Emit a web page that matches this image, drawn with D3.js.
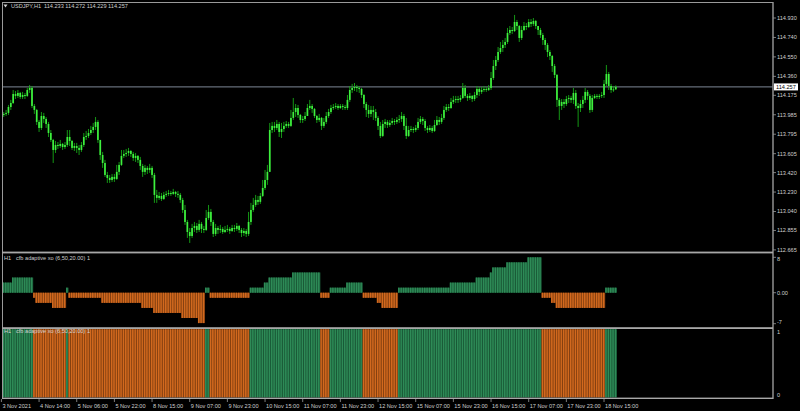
<!DOCTYPE html>
<html><head><meta charset="utf-8">
<script src="https://cdn.jsdelivr.net/npm/d3@7"></script>
<style>html,body{margin:0;padding:0;background:#000;}svg{display:block;}</style>
</head><body><svg id="c" width="800" height="411"></svg>
<script>
// ---------------- DATA ----------------
const symbol = "USDJPY,H1";
const lastOHLC = [114.233, 114.272, 114.229, 114.257];
const currentPrice = 114.257;
const firstOpen = 113.990;
const closes = [
113.983,113.993,114.003,114.061,114.100,114.188,114.169,114.198,114.159,114.178,
114.169,114.227,114.247,114.071,114.032,113.915,113.856,113.973,113.944,113.895,
113.807,113.739,113.641,113.690,113.680,113.700,113.670,113.690,113.768,113.729,
113.661,113.680,113.661,113.641,113.690,113.768,113.778,113.807,113.836,113.866,
113.915,113.739,113.592,113.514,113.397,113.368,113.348,113.378,113.358,113.427,
113.495,113.583,113.602,113.612,113.631,113.602,113.563,113.583,113.544,113.485,
113.427,113.466,113.446,113.466,113.397,113.202,113.173,113.192,113.163,113.202,
113.212,113.221,113.212,113.231,113.212,113.202,113.153,113.055,112.938,112.840,
112.801,112.879,112.899,112.860,112.919,112.870,112.860,112.977,113.036,112.938,
112.821,112.879,112.860,112.870,112.840,112.860,112.870,112.850,112.879,112.870,
112.899,112.860,112.830,112.850,112.821,112.938,113.055,113.104,113.153,113.134,
113.192,113.270,113.348,113.427,113.836,113.876,113.856,113.895,113.817,113.846,
113.876,113.895,113.876,113.954,114.012,114.051,113.983,113.934,113.944,113.973,
114.051,114.071,114.042,113.973,113.934,113.954,113.876,113.915,113.973,114.012,
114.051,114.061,114.071,114.051,114.071,114.061,114.051,114.130,114.227,114.247,
114.256,114.247,114.237,114.178,114.090,114.032,113.993,114.032,114.012,113.954,
113.876,113.778,113.895,113.915,113.885,113.905,113.924,113.915,113.934,113.944,
113.973,113.876,113.778,113.836,113.846,113.836,113.856,113.915,113.944,113.924,
113.856,113.836,113.856,113.827,113.885,113.934,113.915,113.954,114.032,114.061,
114.051,114.110,114.130,114.139,114.130,114.149,114.247,114.169,114.149,114.169,
114.139,114.178,114.237,114.208,114.227,114.237,114.227,114.247,114.344,114.461,
114.520,114.598,114.637,114.667,114.696,114.784,114.813,114.803,114.891,114.852,
114.735,114.813,114.852,114.842,114.891,114.872,114.901,114.852,114.813,114.764,
114.715,114.667,114.598,114.559,114.461,114.374,114.130,114.071,114.110,114.090,
114.139,114.149,114.130,114.198,114.071,114.051,114.090,114.130,114.208,114.169,
114.032,114.149,114.169,114.159,114.169,114.178,114.286,114.383,114.266,114.227,
114.233,114.257];
const highs = [
114.012,114.012,114.032,114.081,114.130,114.227,114.217,114.227,114.208,114.208,
114.198,114.247,114.276,114.266,114.090,114.042,113.934,114.012,114.003,113.963,
113.915,113.836,113.749,113.729,113.719,113.739,113.710,113.719,113.836,113.836,
113.739,113.710,113.710,113.690,113.719,113.807,113.827,113.846,113.876,113.905,
113.963,113.934,113.739,113.622,113.544,113.427,113.397,113.407,113.407,113.495,
113.524,113.641,113.641,113.651,113.661,113.641,113.622,113.612,113.592,113.573,
113.505,113.495,113.485,113.505,113.485,113.417,113.251,113.231,113.221,113.231,
113.241,113.251,113.241,113.261,113.241,113.241,113.221,113.173,113.104,112.958,
112.879,112.919,112.938,112.928,112.958,112.938,112.899,113.055,113.104,113.065,
112.958,112.919,112.899,112.909,112.889,112.899,112.909,112.889,112.909,112.909,
112.928,112.909,112.879,112.879,112.870,113.036,113.124,113.173,113.202,113.192,
113.221,113.348,113.446,113.495,113.905,113.915,113.915,113.934,113.915,113.905,
113.915,113.924,113.915,114.032,114.149,114.090,114.081,113.993,113.973,114.012,
114.090,114.130,114.090,114.051,113.983,113.993,113.963,113.954,114.012,114.042,
114.081,114.090,114.100,114.090,114.090,114.090,114.081,114.178,114.266,114.286,
114.295,114.276,114.266,114.247,114.188,114.110,114.081,114.071,114.071,114.042,
113.973,113.915,113.934,113.944,113.934,113.934,113.954,113.944,113.963,113.983,
114.012,113.993,113.954,113.876,113.876,113.866,113.885,113.954,113.973,113.963,
113.944,113.876,113.885,113.876,113.934,113.973,113.963,113.993,114.071,114.090,
114.090,114.149,114.169,114.169,114.169,114.178,114.295,114.276,114.188,114.198,
114.178,114.208,114.266,114.256,114.256,114.266,114.256,114.276,114.403,114.520,
114.559,114.647,114.696,114.715,114.735,114.833,114.852,114.842,114.960,114.911,
114.862,114.852,114.891,114.881,114.920,114.920,114.930,114.911,114.852,114.833,
114.784,114.735,114.686,114.618,114.569,114.481,114.383,114.149,114.139,114.139,
114.169,114.178,114.169,114.247,114.227,114.100,114.130,114.169,114.247,114.227,
114.188,114.178,114.188,114.188,114.188,114.208,114.325,114.471,114.403,114.286,
114.266,114.272];
const lows = [
113.885,113.963,113.973,113.983,114.032,114.090,114.139,114.149,114.139,114.139,
114.139,114.159,114.198,114.051,113.993,113.885,113.817,113.836,113.905,113.856,
113.768,113.719,113.514,113.612,113.651,113.661,113.641,113.651,113.670,113.680,
113.641,113.631,113.612,113.592,113.622,113.670,113.739,113.758,113.788,113.807,
113.836,113.710,113.544,113.466,113.378,113.319,113.319,113.329,113.329,113.348,
113.397,113.485,113.563,113.573,113.583,113.573,113.534,113.524,113.514,113.446,
113.378,113.397,113.407,113.417,113.368,113.124,113.124,113.153,113.143,113.153,
113.182,113.192,113.192,113.202,113.182,113.173,113.124,113.026,112.909,112.782,
112.733,112.782,112.840,112.830,112.840,112.830,112.830,112.850,112.958,112.899,
112.791,112.801,112.821,112.830,112.821,112.830,112.840,112.821,112.840,112.840,
112.850,112.830,112.791,112.801,112.791,112.801,112.909,113.036,113.085,113.104,
113.114,113.182,113.251,113.300,113.427,113.807,113.817,113.836,113.768,113.758,
113.817,113.856,113.856,113.866,113.934,113.963,113.954,113.905,113.905,113.924,
113.973,114.032,114.003,113.954,113.905,113.915,113.836,113.856,113.895,113.954,
113.993,114.032,114.042,114.032,114.042,114.032,114.032,114.032,114.110,114.198,
114.217,114.208,114.198,114.149,114.051,113.963,113.954,113.963,113.934,113.924,
113.836,113.758,113.768,113.856,113.856,113.866,113.885,113.885,113.895,113.905,
113.915,113.836,113.749,113.768,113.817,113.807,113.817,113.836,113.895,113.885,
113.827,113.807,113.817,113.807,113.817,113.876,113.885,113.895,113.934,114.012,
114.022,114.042,114.090,114.100,114.100,114.110,114.139,114.149,114.120,114.130,
114.110,114.120,114.149,114.169,114.188,114.208,114.208,114.217,114.227,114.325,
114.422,114.501,114.579,114.598,114.637,114.676,114.764,114.774,114.793,114.813,
114.696,114.715,114.803,114.813,114.833,114.842,114.852,114.823,114.764,114.735,
114.667,114.618,114.549,114.520,114.403,114.344,114.061,113.934,114.032,114.051,
114.071,114.100,114.100,114.090,114.042,113.866,114.012,114.051,114.100,114.130,
114.003,114.012,114.139,114.139,114.139,114.149,114.149,114.266,114.227,114.198,
114.208,114.229];
// cfb adaptive xo histogram values (one per bar)
const xoValues = [
2.29,2.29,2.29,2.29,2.29,
3.43,3.43,3.43,3.43,3.43,3.43,3.43,3.43,3.43,
-1.14,
-2.29,-2.29,-2.29,-2.29,-2.29,-2.29,-2.29,
-3.43,-3.43,-3.43,-3.43,-3.43,-3.43,
1.14,
-1.14,-1.14,-1.14,-1.14,-1.14,-1.14,-1.14,-1.14,-1.14,-1.14,-1.14,-1.14,-1.14,-1.14,
-2.29,-2.29,-2.29,-2.29,-2.29,-2.29,-2.29,-2.29,-2.29,-2.29,-2.29,-2.29,-2.29,-2.29,-2.29,-2.29,-2.29,
-3.43,-3.43,-3.43,-3.43,-3.43,
-4.57,-4.57,-4.57,-4.57,-4.57,-4.57,-4.57,-4.57,-4.57,-4.57,-4.57,-4.57,
-5.71,-5.71,-5.71,-5.71,-5.71,-5.71,-5.71,
-6.86,-6.86,-6.86,
1.14,1.14,
-1.14,-1.14,-1.14,-1.14,-1.14,-1.14,-1.14,-1.14,-1.14,-1.14,-1.14,-1.14,-1.14,-1.14,-1.14,-1.14,-1.14,
1.14,1.14,1.14,1.14,1.14,1.14,
2.29,2.29,
3.43,3.43,3.43,3.43,3.43,3.43,3.43,3.43,3.43,3.43,
4.57,4.57,4.57,4.57,4.57,4.57,4.57,4.57,4.57,4.57,4.57,4.57,
-1.14,-1.14,-1.14,-1.14,
1.14,1.14,1.14,1.14,1.14,1.14,1.14,
2.29,2.29,2.29,2.29,2.29,2.29,2.29,
-1.14,-1.14,-1.14,-1.14,-1.14,-1.14,
-2.29,-2.29,
-3.43,-3.43,-3.43,-3.43,-3.43,-3.43,-3.43,
1.14,1.14,1.14,1.14,1.14,1.14,1.14,1.14,1.14,1.14,1.14,1.14,1.14,1.14,1.14,1.14,1.14,1.14,1.14,1.14,1.14,1.14,
2.29,2.29,2.29,2.29,2.29,2.29,2.29,2.29,2.29,2.29,2.29,
3.43,3.43,3.43,3.43,3.43,3.43,
4.57,
5.71,5.71,5.71,5.71,5.71,5.71,
6.86,6.86,6.86,6.86,6.86,6.86,6.86,6.86,6.86,
8.00,8.00,8.00,8.00,8.00,8.00,
-1.14,-1.14,-1.14,-1.14,
-2.29,-2.29,
-3.43,-3.43,-3.43,-3.43,-3.43,-3.43,-3.43,-3.43,-3.43,-3.43,-3.43,-3.43,-3.43,-3.43,-3.43,-3.43,-3.43,-3.43,-3.43,-3.43,-3.43,
1.14,1.14,1.14,1.14,1.14];
const timeLabels = ["3 Nov 2021","4 Nov 14:00","5 Nov 06:00","5 Nov 22:00","8 Nov 15:00","9 Nov 07:00","9 Nov 23:00","10 Nov 15:00","11 Nov 07:00","11 Nov 23:00","12 Nov 15:00","15 Nov 07:00","15 Nov 23:00","16 Nov 15:00","17 Nov 07:00","17 Nov 23:00","18 Nov 15:00"];
const barsPerLabel = 16;
const priceTicks = [114.930,114.740,114.550,114.360,114.175,113.985,113.795,113.605,113.420,113.230,113.040,112.855,112.665];
const xoTicks = [8, 0, -7];
const xoTickText = ["8","0.00","-7"];
const stateTicks = [1, 0];
const tf = "H1";
const indName = "cfb adaptive xo (6,50,20.00) 1";

// ---------------- DRAW ----------------
const svg = d3.select('#c');
const FONT = "'Liberation Sans', Arial, sans-serif";
const FS = 5.6;
const txtCol = '#cfcfcf';
const frameCol = '#9a9a9a';
const L = 2, R = 773;
const n = closes.length;

svg.append('rect').attr('width',800).attr('height',411).attr('fill','#000');

const x = d3.scaleLinear().domain([0, n-1]).range([1.4, 1.4 + 2.354*(n-1)]);
const dx = x(1) - x(0);
const yP = d3.scaleLinear().domain([112.665, 114.930]).range([249.9, 18.0]);
const yX = d3.scaleLinear().domain([-7, 8]).range([323.7, 257.3]);
const yS = d3.scaleLinear().domain([0, 1]).range([397.6, 329.2]);

const defs = svg.append('defs');
defs.append('clipPath').attr('id','cp').append('rect').attr('x',L+0.5).attr('y',3).attr('width',R-L-1).attr('height',248.5);
defs.append('clipPath').attr('id','cx').append('rect').attr('x',L+0.5).attr('y',253.5).attr('width',R-L-1).attr('height',73.5);
defs.append('clipPath').attr('id','cs').append('rect').attr('x',L+0.5).attr('y',329).attr('width',R-L-1).attr('height',68.6);

// price panel
const gP = svg.append('g').attr('clip-path','url(#cp)');
gP.append('line').attr('x1',L).attr('x2',R).attr('y1',yP(currentPrice)).attr('y2',yP(currentPrice))
  .attr('stroke','#7d8796').attr('stroke-width',1);
const bars = d3.range(n).map(i => ({i, o: i===0 ? firstOpen : closes[i-1], h: highs[i], l: lows[i], c: closes[i]}));
gP.selectAll('line.w').data(bars).join('line').attr('class','w')
  .attr('x1',d=>x(d.i)).attr('x2',d=>x(d.i)).attr('y1',d=>yP(d.h)).attr('y2',d=>yP(d.l))
  .attr('stroke','#16a816').attr('stroke-width',0.9);
gP.selectAll('rect.b').data(bars).join('rect').attr('class','b')
  .attr('x',d=>x(d.i)-0.85).attr('width',1.7)
  .attr('y',d=>yP(Math.max(d.o,d.c)))
  .attr('height',d=>Math.max(1, Math.abs(yP(d.o)-yP(d.c))))
  .attr('fill','#3ef03e');

// xo histogram
const colUp = '#2e8b57', colUpDk = '#1b5e3a', colDn = '#d2691e', colDnDk = '#8a4312';
const gX = svg.append('g').attr('clip-path','url(#cx)');
const xoData = xoValues.map((v,i)=>({i,v}));
gX.selectAll('rect.bg').data(xoData).join('rect').attr('class','bg')
  .attr('x',d=>x(d.i)-dx/2).attr('width',dx)
  .attr('y',d=>Math.min(yX(0),yX(d.v))).attr('height',d=>Math.abs(yX(d.v)-yX(0)))
  .attr('fill',d=>d.v>=0?colUpDk:colDnDk);
gX.selectAll('rect.fg').data(xoData).join('rect').attr('class','fg')
  .attr('x',d=>x(d.i)-dx/2).attr('width',dx*0.62)
  .attr('y',d=>Math.min(yX(0),yX(d.v))).attr('height',d=>Math.abs(yX(d.v)-yX(0)))
  .attr('fill',d=>d.v>=0?colUp:colDn);

// state panel (trend state, full height)
const gS = svg.append('g').attr('clip-path','url(#cs)');
gS.selectAll('rect.bg').data(xoData).join('rect').attr('class','bg')
  .attr('x',d=>x(d.i)-dx/2).attr('width',dx)
  .attr('y',yS(1)).attr('height',yS(0)-yS(1))
  .attr('fill',d=>d.v>=0?colUpDk:colDnDk);
gS.selectAll('rect.fg').data(xoData).join('rect').attr('class','fg')
  .attr('x',d=>x(d.i)-dx/2).attr('width',dx*0.62)
  .attr('y',yS(1)).attr('height',yS(0)-yS(1))
  .attr('fill',d=>d.v>=0?colUp:colDn);

// frames
const fr = svg.append('g');
fr.append('line').attr('x1',L).attr('x2',R).attr('y1',2.5).attr('y2',2.5).attr('stroke',frameCol);
fr.append('line').attr('x1',L+0.5).attr('x2',L+0.5).attr('y1',2).attr('y2',399).attr('stroke',frameCol);
fr.append('line').attr('x1',R).attr('x2',R).attr('y1',2).attr('y2',399).attr('stroke',frameCol).attr('stroke-width',1.4);
fr.append('rect').attr('x',L).attr('y',251.6).attr('width',R-L).attr('height',1.8).attr('fill','#a8a8a8');
fr.append('rect').attr('x',L).attr('y',327.2).attr('width',R-L).attr('height',1.8).attr('fill','#a8a8a8');
fr.append('rect').attr('x',L).attr('y',397.6).attr('width',R-L).attr('height',1.4).attr('fill','#a8a8a8');

// price axis
const ax = svg.append('g').attr('font-family',FONT).attr('font-size',FS).attr('fill',txtCol);
priceTicks.forEach(p=>{
  ax.append('line').attr('x1',R).attr('x2',R+3).attr('y1',yP(p)).attr('y2',yP(p)).attr('stroke',frameCol).attr('stroke-width',0.8);
  ax.append('text').attr('x',R+4).attr('y',yP(p)).attr('dy','0.35em').text(p.toFixed(3));
});
ax.append('rect').attr('x',R+1).attr('y',yP(currentPrice)-3.5).attr('width',24).attr('height',7).attr('fill','#fff');
ax.append('text').attr('x',R+3).attr('y',yP(currentPrice)).attr('dy','0.35em').attr('fill','#000').text(currentPrice.toFixed(3));

// xo axis
xoTicks.forEach((t,k)=>{
  ax.append('line').attr('x1',R).attr('x2',R+3).attr('y1',yX(t)).attr('y2',yX(t)).attr('stroke',frameCol).attr('stroke-width',0.8);
  const dy = k===0 ? '0.7em' : (k===2 ? '0em' : '0.35em');
  ax.append('text').attr('x',R+4).attr('y',yX(t)).attr('dy',dy).text(xoTickText[k]);
});
// state axis
stateTicks.forEach(t=>{
  ax.append('text').attr('x',R+4).attr('y',yS(t)).attr('dy', t===1 ? '0.85em' : '-0.1em').text(String(t));
});

// time axis
timeLabels.forEach((lab,k)=>{
  const xi = x(k*barsPerLabel);
  ax.append('line').attr('x1',xi).attr('x2',xi).attr('y1',399).attr('y2',402).attr('stroke',frameCol).attr('stroke-width',0.8);
  ax.append('text').attr('x',xi+1).attr('y',407.5).text(lab);
});

// titles
ax.append('path').attr('d','M3.5,4.5 L7.5,4.5 L5.5,7.5 Z').attr('fill',txtCol);
ax.append('text').attr('x',11).attr('y',8).text(symbol);
ax.append('text').attr('x',44).attr('y',8).text(lastOHLC.map(v=>v.toFixed(3)).join(' '));
ax.append('text').attr('x',4).attr('y',260).text(tf);
ax.append('text').attr('x',16).attr('y',260).text(indName);
ax.append('text').attr('x',4).attr('y',333).text(tf);
ax.append('text').attr('x',16).attr('y',333).text(indName);
</script>
</body></html>
